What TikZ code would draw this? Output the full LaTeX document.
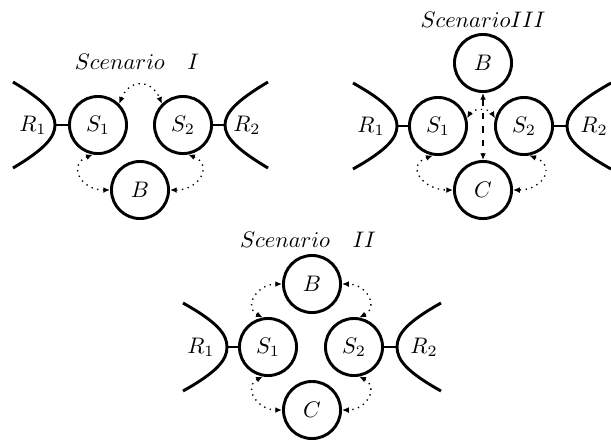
\documentclass[tikz,border=0pt]{standalone}
\usetikzlibrary{arrows.meta}
\begin{document}
\begin{tikzpicture}[x=0.445pt,y=0.445pt,
  st/.style={circle,draw,line width=1.3pt,minimum size=25.4pt,inner sep=0pt},
  rarc/.style={line width=1.3pt},
  link/.style={line width=0.5pt},
  tipl/.tip={Latex[length=3pt,width=2.6pt]},
  dotarr/.style={dotted,line width=0.6pt,tipl-tipl},
  dasharr/.style={dashed,line width=0.6pt,tipl-tipl}]
\useasboundingbox (0,0) rectangle (611,441);

% ---------- Scenario I ----------
\node (t1) at (137,379) {$Scenario\quad I$};
\node[st] (S1a) at (98,316) {$S_1$};
\node[st] (S2a) at (183,316) {$S_2$};
\node[st] (Ba) at (140,251) {$B$};
\node (R1a) at (33,316) {$R_1$};
\node (R2a) at (247,316) {$R_2$};
\coordinate (va1) at (55,316);
\coordinate (va2) at (225,316);
\draw[rarc] (13,359) .. controls (45,340) and (55,328) .. (va1) .. controls (55,304) and (45,292) .. (13,273);
\draw[rarc] (268,359) .. controls (236,340) and (225,328) .. (va2) .. controls (225,304) and (236,292) .. (268,273);
\draw[link] (va1) -- (S1a);
\draw[link] (va2) -- (S2a);
\draw[dotarr] (S1a.45) .. controls +(10,25) and +(-10,25) .. (S2a.135);
\draw[dotarr] (S1a.-100) .. controls +(-25,-10) and +(-30,0) .. (Ba.west);
\draw[dotarr] (S2a.-80) .. controls +(25,-10) and +(30,0) .. (Ba.east);

% ---------- Scenario III ----------
\node (t3) at (483,421) {$Scenario III$};
\node[st] (Bc) at (483,378) {$B$};
\node[st] (S1c) at (438,315) {$S_1$};
\node[st] (S2c) at (524,315) {$S_2$};
\node[st] (Cc) at (483,251) {$C$};
\node (R1c) at (371,315) {$R_1$};
\node (R2c) at (594,315) {$R_2$};
\coordinate (vc1) at (397,315);
\coordinate (vc2) at (567,315);
\draw[rarc] (353,358) .. controls (387,339) and (397,327) .. (vc1) .. controls (397,303) and (387,291) .. (353,272);
\draw[rarc] (611,358) .. controls (577,339) and (567,327) .. (vc2) .. controls (567,303) and (577,291) .. (611,272);
\draw[link] (vc1) -- (S1c);
\draw[link] (vc2) -- (S2c);
\draw[dasharr] (Bc.south) -- (Cc.north);
\draw[dotarr] (S1c.15) .. controls +(6,10) and +(-6,10) .. (S2c.165);
\draw[dotarr] (S1c.-100) .. controls +(-28,-10) and +(-30,0) .. (Cc.west);
\draw[dotarr] (S2c.-80) .. controls +(28,-10) and +(30,0) .. (Cc.east);

% ---------- Scenario II ----------
\node (t2) at (308,201) {$Scenario\quad II$};
\node[st] (Bb) at (312,157) {$B$};
\node[st] (S1b) at (268,94) {$S_1$};
\node[st] (S2b) at (354,94) {$S_2$};
\node[st] (Cb) at (312,31) {$C$};
\node (R1b) at (201,94) {$R_1$};
\node (R2b) at (424,94) {$R_2$};
\coordinate (vb1) at (227,94);
\coordinate (vb2) at (397,94);
\draw[rarc] (183,138) .. controls (217,119) and (227,107) .. (vb1) .. controls (227,81) and (217,69) .. (183,50);
\draw[rarc] (441,138) .. controls (407,119) and (397,107) .. (vb2) .. controls (397,81) and (407,69) .. (441,50);
\draw[link] (vb1) -- (S1b);
\draw[link] (vb2) -- (S2b);
\draw[dotarr] (S1b.100) .. controls +(-20,10) and +(-25,0) .. (Bb.west);
\draw[dotarr] (S2b.80) .. controls +(20,10) and +(25,0) .. (Bb.east);
\draw[dotarr] (S1b.-100) .. controls +(-20,-10) and +(-25,0) .. (Cb.west);
\draw[dotarr] (S2b.-80) .. controls +(20,-10) and +(25,0) .. (Cb.east);
\end{tikzpicture}
\end{document}
